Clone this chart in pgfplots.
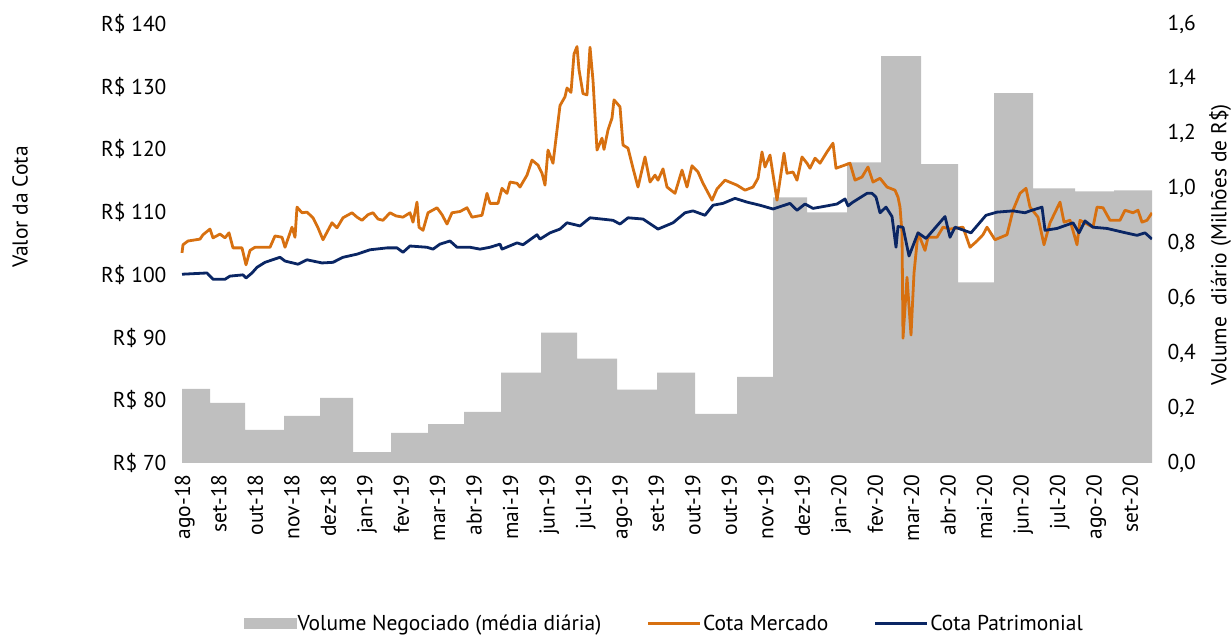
\documentclass[border=0pt]{standalone}
\usepackage{pgfplots}
\pgfplotsset{compat=1.18}
\usepackage{fontspec}
\setmainfont{PT Sans}
\definecolor{volgray}{RGB}{191,191,191}
\definecolor{mercado}{RGB}{215,112,16}
\definecolor{patrim}{RGB}{10,38,100}
\newcommand{\chartfont}{\fontsize{21.5bp}{25bp}\selectfont}
\begin{document}
\begin{tikzpicture}
\path[use as bounding box] (0,0) rectangle (1232bp,637bp);
% ---------- right axis: volume ----------
\begin{axis}[
  at={(180bp,174bp)}, anchor=south west, scale only axis,
  width=972bp, height=439bp,
  xmin=180, xmax=1152, ymin=0, ymax=1.6,
  axis x line=none, axis y line*=right,
  axis line style={draw=none}, major tick length=0pt,
  ytick={0,0.2,0.4,0.6,0.8,1.0,1.2,1.4,1.6},
  yticklabels={{0,0},{0,2},{0,4},{0,6},{0,8},{1,0},{1,2},{1,4},{1,6}},
  yticklabel style={font=\chartfont, anchor=west, xshift=12bp},
  ylabel={Volume\ \ diário (Milhões de R\$)},
  every axis y label/.style={at={(axis description cs:1.07,0.497)}, anchor=center, rotate=90, font=\chartfont},
]
\addplot[const plot, fill=volgray, draw=none] coordinates {
(182,0.270) (210,0.219) (245,0.121) (284,0.172) (320,0.237) (353,0.040)
(391,0.110) (428,0.142) (464,0.186) (501,0.329) (541,0.475) (577,0.380)
(617,0.267) (657,0.329) (695,0.179) (737,0.314) (773,0.968) (807,0.913)
(847,1.096) (881,1.483) (921,1.089) (958,0.658) (994,1.348) (1033,1.001)
(1075,0.990) (1114,0.994) (1152,0.994)
} \closedcycle;
\end{axis}
% ---------- left axis: cota ----------
\begin{axis}[
  at={(180bp,174bp)}, anchor=south west, scale only axis,
  width=972bp, height=439bp,
  xmin=180, xmax=1152, ymin=70, ymax=140,
  axis x line*=bottom, axis y line*=left,
  axis line style={draw=none}, major tick length=0pt,
  ytick={70,80,90,100,110,120,130,140},
  yticklabels={R\$ 70,R\$ 80,R\$ 90,R\$ 100,R\$ 110,R\$ 120,R\$ 130,R\$ 140},
  yticklabel style={font=\chartfont, anchor=east, xshift=-10bp},
  xtick={190,226.46,262.92,299.38,335.84,372.3,408.76,445.22,481.68,518.14,554.6,591.06,627.52,663.98,700.44,736.9,773.36,809.82,846.28,882.74,919.2,955.66,992.12,1028.58,1065.04,1101.5,1137.96},
  xticklabels={ago-18,set-18,out-18,nov-18,dez-18,jan-19,fev-19,mar-19,abr-19,mai-19,jun-19,jul-19,ago-19,set-19,out-19,out-19,nov-19,dez-19,jan-20,fev-20,mar-20,abr-20,mai-20,jun-20,jul-20,ago-20,set-20},
  xticklabel style={font=\chartfont, rotate=90, anchor=base east, xshift=-8bp},
  ylabel={Valor da Cota},
  every axis y label/.style={at={(axis description cs:-0.1646,0.583)}, anchor=center, rotate=90, font=\chartfont},
  legend columns=3,
  legend style={draw=none, fill=none, font=\chartfont, at={(axis description cs:0.498,-0.365)}, anchor=center,
    nodes={inner sep=1.5bp},
    /tikz/every even column/.append style={column sep=44bp}},
  legend image code/.code={\draw[#1] (0bp,0bp) -- (52bp,0bp);},
]
\addlegendimage{legend image code/.code={\fill[volgray] (0bp,-5bp) rectangle (52bp,5bp);}}
\addlegendentry{Volume Negociado (média diária)}
\addplot[color=mercado, line width=2.8bp, line join=round] coordinates {
(182,103.5) (183,104.8) (188,105.4) (200,105.7) (203,106.4) (210,107.3) (213,105.9)
(220,106.5) (225,105.9) (229,106.7) (233,104.3) (242,104.3) (246,101.6) (250,103.9)
(255,104.4) (270,104.4) (275,106.2) (282,106.0) (285,104.4) (292,107.6) (295,106.0)
(297,110.8) (302,109.9) (307,110.0) (313,109.1) (318,107.5) (323,105.6) (332,108.3)
(337,107.5) (343,109.1) (352,109.9) (357,109.2) (362,108.7) (368,109.6) (373,109.9)
(378,108.9) (383,108.7) (390,109.9) (396,109.4) (403,109.2) (410,109.9) (413,108.4)
(417,111.6) (419,107.6) (423,107.1) (428,109.9) (437,110.7) (442,109.6) (447,108.1)
(452,109.9) (460,110.1) (467,110.7) (472,109.2) (482,109.5) (487,113.0) (490,111.4)
(498,111.4) (502,113.8) (507,113.0) (510,114.8) (517,114.6) (520,114.0) (527,115.9)
(532,118.3) (538,117.5) (542,116.2) (545,114.3) (548,119.9) (553,117.8) (560,127.0)
(565,128.4) (567,129.8) (571,129.1) (574,135.2) (577,136.4) (579,132.7) (583,128.9)
(587,128.7) (590,136.3) (593,131.0) (597,119.9) (602,121.8) (604,120.0) (608,123.1)
(612,125.0) (614,127.9) (620,126.8) (623,120.7) (628,120.2) (633,117.0) (638,114.0)
(645,118.8) (650,114.8) (655,115.9) (658,115.1) (663,116.9) (667,114.0) (675,113.0)
(682,116.7) (687,114.0) (692,117.4) (698,116.4) (703,114.6) (712,111.9) (717,113.7)
(725,115.1) (737,114.3) (745,113.5) (753,114.0) (758,115.4) (762,119.6) (765,117.2)
(770,119.1) (777,111.9) (784,119.4) (787,116.2) (793,116.4) (797,115.1) (802,118.8)
(807,117.8) (810,117.0) (815,118.6) (820,117.8) (827,119.6) (833,121.0) (836,117.0)
(850,117.8) (855,115.1) (862,115.6) (868,117.2) (873,114.8) (880,115.4) (887,114.0)
(895,113.5) (898,112.4) (900,110.8) (902,106.7) (903,89.9) (907,99.6) (911,90.4)
(914,100.3) (918,106.7) (925,103.9) (928,106.0) (937,106.0) (943,107.6) (950,107.3)
(963,107.6) (970,104.4) (977,105.4) (983,106.4) (987,107.6) (995,105.6) (1007,106.4)
(1013,110.3) (1020,113.0) (1026,113.8) (1030,110.8) (1038,109.2) (1044,104.8) (1050,108.3)
(1060,111.6) (1064,108.4) (1070,108.7) (1077,104.8) (1080,108.7) (1093,107.6) (1097,110.8)
(1103,110.7) (1110,108.7) (1120,108.7) (1125,110.3) (1133,109.9) (1138,110.3) (1142,108.4)
(1147,108.7) (1152,109.9)
};
\addlegendentry{Cota Mercado}
\addplot[color=patrim, line width=2.8bp, line join=round] coordinates {
(182,100.1) (207,100.3) (213,99.3) (225,99.3) (230,99.8) (243,100.0) (246,99.5)
(252,100.3) (257,101.2) (265,102.0) (280,102.8) (285,102.2) (298,101.7) (307,102.4)
(322,101.9) (333,102.0) (343,102.8) (357,103.3) (370,104.0) (387,104.3) (397,104.3)
(403,103.6) (410,104.6) (427,104.4) (433,104.1) (440,104.9) (450,105.4) (457,104.4)
(470,104.4) (480,104.1) (490,104.4) (500,104.9) (502,104.1) (517,105.1) (523,104.8)
(537,106.4) (540,105.7) (550,106.7) (560,107.3) (567,108.3) (580,107.8) (590,109.1)
(613,108.7) (620,108.1) (628,109.1) (643,108.9) (658,107.3) (673,108.3) (685,109.9)
(693,110.2) (705,109.5) (713,111.1) (723,111.4) (735,112.2) (747,111.6) (760,111.1)
(773,110.5) (790,111.4) (797,110.3) (805,111.3) (813,110.6) (827,111.0) (837,111.3)
(845,112.1) (848,111.0) (853,111.6) (867,113.0) (872,113.0) (876,112.4) (880,109.9)
(886,110.8) (892,109.3) (896,104.4) (898,107.7) (903,107.6) (909,103.0) (918,106.7)
(926,105.8) (945,109.3) (950,106.0) (955,107.6) (971,106.7) (986,109.5) (997,110.0)
(1013,110.2) (1025,109.9) (1030,110.2) (1042,110.8) (1045,107.1) (1057,107.4) (1073,108.3)
(1079,106.7) (1085,108.6) (1093,107.6) (1107,107.4) (1123,106.8) (1137,106.3) (1145,106.7)
(1152,105.7)
};
\addlegendentry{Cota Patrimonial}
\end{axis}
\end{tikzpicture}
\end{document}
